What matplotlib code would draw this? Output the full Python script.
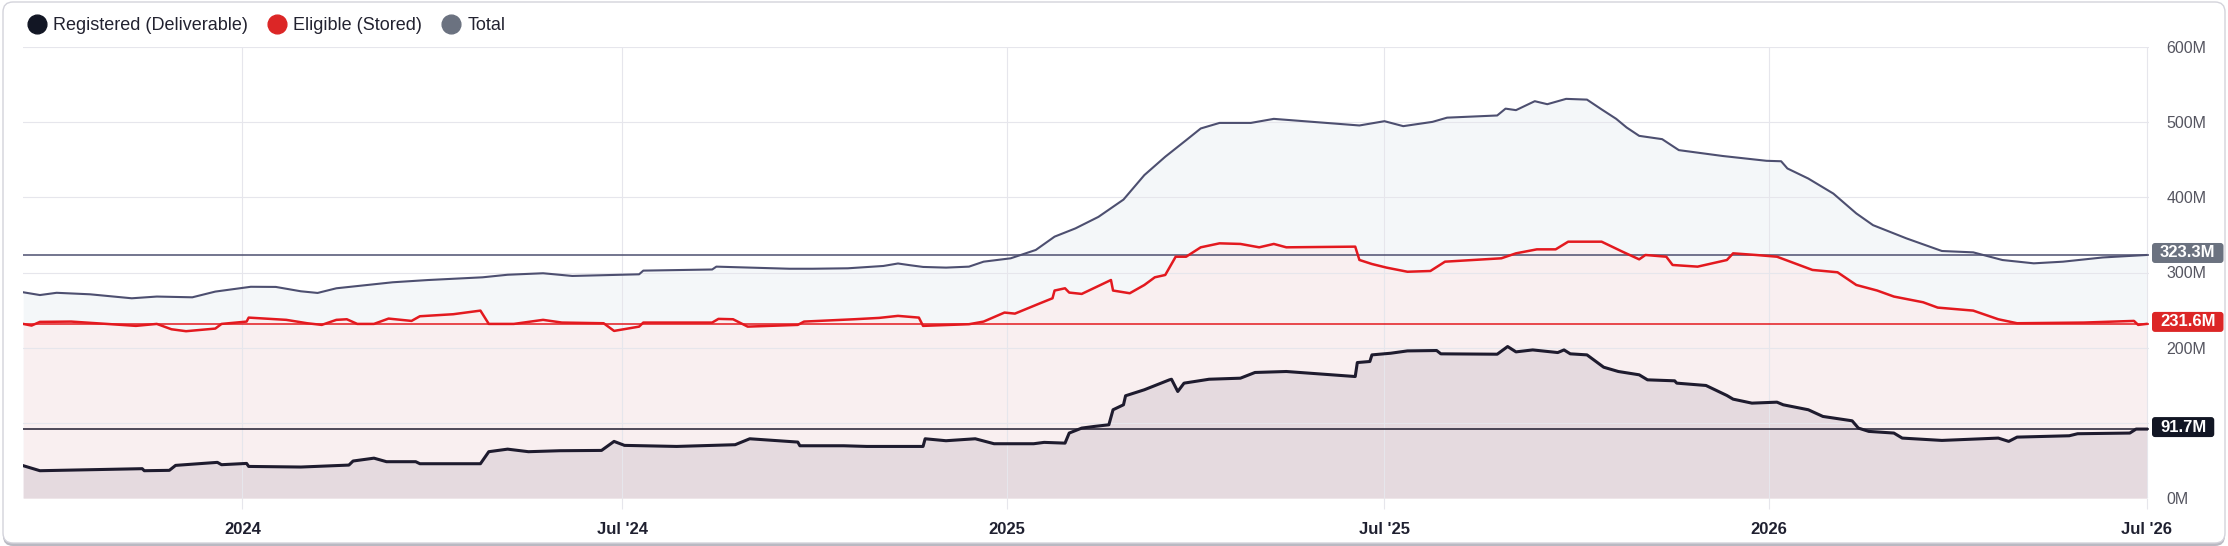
"""Registered / Eligible / Total: stock diario con etiqueta del último valor.

Réplica estática del panel de inventario (áreas superpuestas + líneas de referencia).
"""
import matplotlib
matplotlib.use("Agg")
import matplotlib.pyplot as plt
from matplotlib.lines import Line2D
from matplotlib.patches import FancyBboxPatch
from matplotlib.transforms import IdentityTransform
import pandas as pd

plt.rcParams["font.family"] = ["Liberation Sans", "DejaVu Sans"]

# --- datos (millones) ---
total_dates = [
    "2023-09-18", "2023-09-26", "2023-10-04", "2023-10-20", "2023-11-09", "2023-11-21",
    "2023-12-08", "2023-12-19", "2024-01-05", "2024-01-17", "2024-01-29", "2024-02-06",
    "2024-02-15", "2024-03-13", "2024-03-30", "2024-04-25", "2024-05-07", "2024-05-24",
    "2024-06-07", "2024-06-26", "2024-07-09", "2024-07-11", "2024-08-13", "2024-08-15",
    "2024-09-19", "2024-09-30", "2024-10-17", "2024-11-03", "2024-11-10", "2024-11-16",
    "2024-11-22", "2024-12-03", "2024-12-14", "2024-12-21", "2025-01-03", "2025-01-15",
    "2025-01-24", "2025-02-03", "2025-02-14", "2025-02-26", "2025-03-08", "2025-03-18",
    "2025-03-28", "2025-04-04", "2025-04-13", "2025-04-28", "2025-05-09", "2025-06-19",
    "2025-07-01", "2025-07-10", "2025-07-24", "2025-07-31", "2025-08-24", "2025-08-28",
    "2025-09-02", "2025-09-11", "2025-09-17", "2025-09-26", "2025-10-06", "2025-10-13",
    "2025-10-20", "2025-10-25", "2025-10-31", "2025-11-11", "2025-11-19", "2025-12-10",
    "2025-12-31", "2026-01-07", "2026-01-10", "2026-01-20", "2026-02-01", "2026-02-12",
    "2026-02-20", "2026-03-08", "2026-03-25", "2026-04-09", "2026-04-23", "2026-05-08",
    "2026-05-22", "2026-06-10", "2026-07-01",
]
total_vals = [
    273.7, 270.0, 273.0, 271.0, 265.7, 268.0,
    267.0, 274.6, 281.0, 280.8, 275.0, 272.8,
    279.0, 287.0, 290.0, 293.6, 297.0, 299.0,
    295.4, 296.7, 297.6, 302.5, 304.0, 307.8,
    305.0, 305.0, 305.6, 308.7, 312.0, 309.6,
    307.4, 306.5, 307.8, 314.4, 318.9, 330.0,
    347.7, 358.7, 374.0, 397.0, 429.6, 454.0,
    476.0, 491.6, 499.0, 499.0, 504.4, 495.6,
    501.3, 494.7, 500.4, 506.0, 508.9, 518.0,
    516.0, 527.9, 523.9, 531.0, 530.0, 517.0,
    504.4, 492.9, 481.8, 477.4, 462.8, 455.0,
    448.6, 448.0, 438.4, 425.0, 405.0, 378.6,
    363.0, 345.4, 328.6, 326.8, 316.6, 312.2,
    314.4, 320.0, 323.3,
]

eligible_dates = [
    "2023-09-18", "2023-09-22", "2023-09-26", "2023-10-11", "2023-10-28", "2023-11-11",
    "2023-11-21", "2023-11-28", "2023-12-05", "2023-12-19", "2023-12-22", "2024-01-03",
    "2024-01-04", "2024-01-22", "2024-02-01", "2024-02-08", "2024-02-15", "2024-02-20",
    "2024-02-25", "2024-03-04", "2024-03-11", "2024-03-22", "2024-03-26", "2024-04-11",
    "2024-04-24", "2024-04-28", "2024-05-10", "2024-05-24", "2024-06-02", "2024-06-22",
    "2024-06-27", "2024-07-09", "2024-07-11", "2024-08-13", "2024-08-16", "2024-08-23",
    "2024-08-30", "2024-09-23", "2024-09-26", "2024-10-20", "2024-11-01", "2024-11-10",
    "2024-11-20", "2024-11-22", "2024-12-14", "2024-12-21", "2024-12-31", "2025-01-05",
    "2025-01-17", "2025-01-23", "2025-01-24", "2025-01-29", "2025-01-31", "2025-02-06",
    "2025-02-20", "2025-02-21", "2025-03-01", "2025-03-08", "2025-03-13", "2025-03-18",
    "2025-03-23", "2025-03-28", "2025-04-04", "2025-04-13", "2025-04-23", "2025-05-02",
    "2025-05-09", "2025-05-15", "2025-06-17", "2025-06-19", "2025-06-25", "2025-07-02",
    "2025-07-12", "2025-07-23", "2025-07-30", "2025-08-26", "2025-09-02", "2025-09-12",
    "2025-09-21", "2025-09-27", "2025-10-03", "2025-10-13", "2025-10-23", "2025-10-31",
    "2025-11-03", "2025-11-13", "2025-11-16", "2025-11-28", "2025-12-12", "2025-12-15",
    "2025-12-26", "2026-01-05", "2026-01-22", "2026-02-03", "2026-02-12", "2026-02-22",
    "2026-03-02", "2026-03-16", "2026-03-23", "2026-04-09", "2026-04-21", "2026-04-30",
    "2026-06-01", "2026-06-25", "2026-06-27", "2026-07-01",
]
eligible_vals = [
    231.6, 229.4, 234.3, 234.7, 231.6, 229.0,
    231.6, 224.5, 221.9, 225.4, 231.6, 234.7,
    240.0, 237.0, 232.5, 230.3, 237.0, 237.8,
    231.6, 231.6, 238.7, 235.6, 241.8, 244.5,
    249.3, 231.6, 231.6, 237.0, 233.4, 232.5,
    222.3, 228.0, 233.4, 233.4, 238.3, 237.8,
    228.0, 230.3, 234.7, 237.8, 239.6, 242.3,
    240.0, 229.0, 231.2, 234.7, 246.7, 245.3,
    259.0, 265.7, 276.0, 279.0, 273.3, 271.5,
    290.0, 276.0, 272.4, 283.4, 293.6, 296.7,
    321.0, 321.0, 333.5, 338.8, 338.0, 333.5,
    338.0, 333.5, 334.4, 316.7, 311.3, 306.5,
    301.0, 302.0, 314.4, 318.9, 325.5, 330.8,
    330.8, 341.0, 341.0, 341.0, 327.7, 317.5,
    323.3, 321.0, 310.0, 307.8, 316.6, 325.5,
    323.3, 321.0, 303.4, 300.3, 283.4, 276.0,
    268.0, 260.4, 253.3, 249.3, 237.8, 232.5,
    233.4, 235.6, 230.3, 231.6,
]

registered_dates = [
    "2023-09-18", "2023-09-26", "2023-11-14", "2023-11-15", "2023-11-27", "2023-11-30",
    "2023-12-20", "2023-12-22", "2024-01-03", "2024-01-04", "2024-01-29", "2024-02-21",
    "2024-02-23", "2024-03-04", "2024-03-10", "2024-03-24", "2024-03-26", "2024-04-24",
    "2024-04-28", "2024-05-07", "2024-05-17", "2024-06-01", "2024-06-21", "2024-06-27",
    "2024-07-02", "2024-07-27", "2024-08-24", "2024-08-31", "2024-09-23", "2024-09-24",
    "2024-10-15", "2024-10-26", "2024-11-22", "2024-11-23", "2024-12-03", "2024-12-17",
    "2024-12-26", "2025-01-14", "2025-01-19", "2025-01-29", "2025-01-31", "2025-02-06",
    "2025-02-12", "2025-02-19", "2025-02-21", "2025-02-26", "2025-02-27", "2025-03-08",
    "2025-03-20", "2025-03-21", "2025-03-24", "2025-03-27", "2025-04-08", "2025-04-23",
    "2025-04-30", "2025-05-15", "2025-06-17", "2025-06-18", "2025-06-24", "2025-06-25",
    "2025-07-04", "2025-07-12", "2025-07-26", "2025-07-28", "2025-08-24", "2025-08-29",
    "2025-09-02", "2025-09-10", "2025-09-22", "2025-09-25", "2025-09-28", "2025-10-06",
    "2025-10-14", "2025-10-21", "2025-10-31", "2025-11-04", "2025-11-17", "2025-11-18",
    "2025-12-02", "2025-12-12", "2025-12-15", "2025-12-24", "2026-01-05", "2026-01-08",
    "2026-01-20", "2026-01-27", "2026-02-10", "2026-02-13", "2026-02-18", "2026-03-02",
    "2026-03-06", "2026-03-25", "2026-04-21", "2026-04-26", "2026-04-30", "2026-05-25",
    "2026-05-29", "2026-06-23", "2026-06-26", "2026-07-01",
]
registered_vals = [
    43.0, 36.3, 39.0, 36.3, 36.8, 43.4,
    47.4, 44.3, 46.0, 42.0, 41.2, 43.8,
    49.2, 53.0, 48.3, 48.3, 45.6, 45.6,
    61.6, 65.0, 61.6, 62.9, 63.3, 75.3,
    70.0, 68.6, 70.9, 78.8, 74.4, 69.5,
    69.5, 68.6, 68.6, 78.8, 76.2, 78.8,
    72.2, 72.2, 74.0, 73.0, 86.4, 93.0,
    95.2, 97.4, 117.4, 124.0, 136.0, 144.0,
    157.2, 158.0, 141.7, 152.8, 158.0, 159.4,
    167.0, 168.3, 161.6, 180.2, 181.6, 190.4,
    192.6, 195.7, 196.2, 191.8, 191.3, 201.5,
    194.4, 197.0, 193.5, 197.0, 191.8, 190.4,
    174.0, 168.3, 163.9, 157.2, 155.9, 152.8,
    149.7, 136.4, 131.5, 126.2, 127.5, 124.0,
    117.4, 108.5, 102.7, 93.0, 88.6, 86.4,
    79.7, 76.6, 79.7, 75.3, 81.0, 82.8,
    85.5, 86.4, 91.7, 91.7,
]

x_tick_dates = ["2024-01-01", "2024-07-01", "2025-01-01", "2025-07-01", "2026-01-01", "2026-07-01"]
x_tick_labels = ["2024", "Jul '24", "2025", "Jul '25", "2026", "Jul '26"]
y_ticks = [0, 100, 200, 300, 400, 500, 600]
# 100M queda tapado por la caja de 91.7M en el original
y_tick_labels = ["0M", "", "200M", "300M", "400M", "500M", "600M"]
x_range = ["2023-09-18", "2026-07-02"]

# nombre, fechas, valores, línea, relleno, caja de etiqueta, grosor
series = [
    ("Total", total_dates, total_vals, "#4d4f70", "#f4f7f9", "#6b7280", 1.5),
    ("Eligible (Stored)", eligible_dates, eligible_vals, "#e3191f", "#f9eff0", "#dc2626", 1.8),
    ("Registered (Deliverable)", registered_dates, registered_vals, "#1e1b2e", "#e5dadf", "#121624", 2.2),
]
GRID = "#e6e6ec"

W, H = 2228, 546
fig = plt.figure(figsize=(W / 100, H / 100), dpi=100)

# marco redondeado con sombra inferior
fig.patches.append(FancyBboxPatch((3, 0), W - 6, H - 4, boxstyle="round,pad=0,rounding_size=10",
                                  transform=IdentityTransform(), fc="#b9b9c2", ec="none", zorder=-3))
fig.patches.append(FancyBboxPatch((3, 3), W - 6, H - 5, boxstyle="round,pad=0,rounding_size=10",
                                  transform=IdentityTransform(), fc="white", ec="#d3d3db", lw=1, zorder=-2))

ax = fig.add_axes([23.2 / W, 48 / H, (2148.6 - 23.2) / W, 451 / H])
ax.patch.set_alpha(0)

for name, d, v, lc, fc, _, lw in series:
    d = pd.to_datetime(d)
    ax.fill_between(d, v, 0, color=fc, lw=0, zorder=1)
for name, d, v, lc, fc, _, lw in series:
    d = pd.to_datetime(d)
    ax.axhline(v[-1], color=lc, lw=1.1, zorder=2.5)
    ax.plot(d, v, color=lc, lw=lw, zorder=3, solid_joinstyle="round")

ax.set_xlim(pd.to_datetime(x_range[0]), pd.to_datetime(x_range[1]))
ax.set_ylim(0, 600)
ax.set_xticks(pd.to_datetime(x_tick_dates))
ax.set_xticklabels(x_tick_labels, fontsize=12, fontweight="bold", color="#1f2030")
ax.set_yticks(y_ticks)
ax.set_yticklabels(y_tick_labels, fontsize=11.5, color="#555560")
ax.yaxis.tick_right()
ax.tick_params(axis="y", length=0, pad=13)
ax.tick_params(axis="x", length=8, width=0.8, color=GRID, pad=9)
ax.set_axisbelow("line")
ax.grid(True, color=GRID, lw=0.8)
for s in ax.spines.values():
    s.set_visible(False)

# cajas con el último valor, pegadas al borde derecho
x_box = 2152
for name, d, v, lc, fc, bc, lw in series:
    y_pix = ax.transData.transform((0, v[-1]))[1] + 2
    t = fig.text(x_box + 8, y_pix, f"{v[-1]:.1f}M", transform=IdentityTransform(),
                 ha="left", va="center", fontsize=12, fontweight="bold", color="white", zorder=6)
    fig.canvas.draw()
    tw = t.get_window_extent().width
    fig.patches.append(FancyBboxPatch((x_box, y_pix - 10), tw + 16, 20,
                                      boxstyle="round,pad=0,rounding_size=3",
                                      transform=IdentityTransform(), fc=bc, ec="none", zorder=5))

# leyenda
handles = [Line2D([], [], ls="", marker="o", markersize=13.5, mfc=c, mec=c)
           for c in ["#121624", "#dc2626", "#6b7280"]]
fig.legend(handles, ["Registered (Deliverable)", "Eligible (Stored)", "Total"],
           loc="upper left", bbox_to_anchor=(28 / W, 1 - 17 / H), ncol=3, frameon=False,
           fontsize=13, borderpad=0, borderaxespad=0, handlelength=1.0,
           handletextpad=0.4, columnspacing=1.1, labelcolor="#222230")

fig.savefig("out.png", dpi=100)
